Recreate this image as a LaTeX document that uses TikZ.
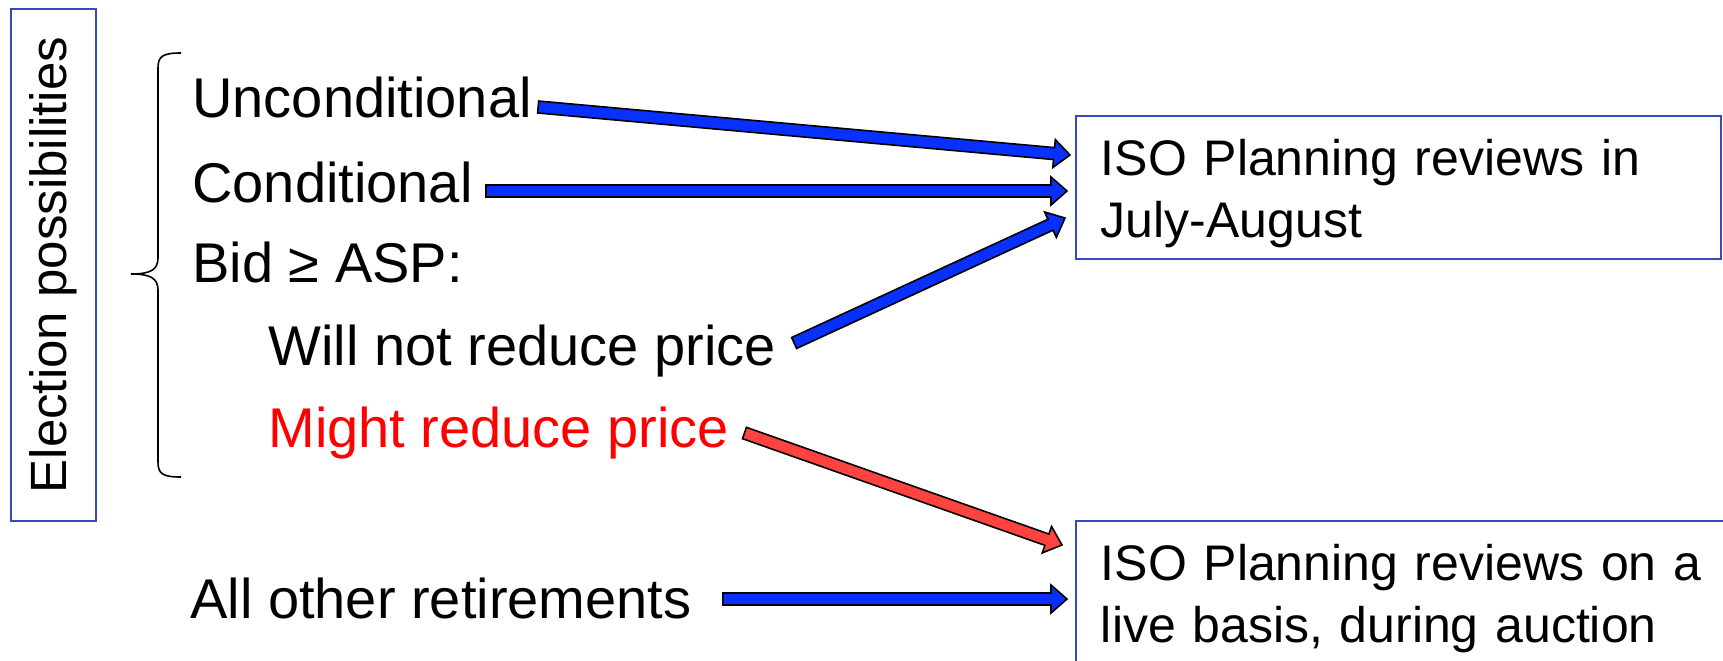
\documentclass[tikz,border=0pt]{standalone}
\usepackage{fontspec}
\setmainfont{Liberation Sans}
\usetikzlibrary{calc}
\definecolor{arrowblue}{RGB}{8,48,255}
\definecolor{arrowred}{RGB}{255,68,64}
\definecolor{boxblue}{RGB}{58,72,190}
% seta de bloco: [preenchimento]{origem}{destino}
\newcommand{\blockArrow}[3][fill=arrowblue]{%
  \coordinate (ba-s) at (#2);
  \coordinate (ba-e) at (#3);
  \coordinate (ba-h) at ($(ba-e)!8pt!(ba-s)$);
  \filldraw[draw=black,line width=0.8pt,line join=miter,#1]
    ($(ba-s)!3pt!90:(ba-e)$)--($(ba-h)!3pt!90:(ba-e)$)
    --($(ba-h)!7pt!90:(ba-e)$)--(ba-e)
    --($(ba-h)!7pt!-90:(ba-e)$)--($(ba-h)!3pt!-90:(ba-e)$)
    --($(ba-s)!3pt!-90:(ba-e)$)--cycle;}
\begin{document}
\begin{tikzpicture}[
  x=0.5pt,y=-0.5pt,
  listtxt/.style={font=\fontsize{28}{34}\selectfont,inner sep=0pt,
    anchor=base west,text height=20pt,text depth=6pt},
  sidebox/.style={draw=boxblue,line width=0.9pt,rotate=90,
    font=\fontsize{25.5}{30}\selectfont,minimum width=256pt,
    minimum height=42.5pt,inner sep=0pt},
  planbox/.style={draw=boxblue,line width=0.9pt,anchor=north west,
    font=\fontsize{25}{31}\selectfont,text width=297.5pt,align=left,
    inner xsep=12.5pt,inner ysep=0pt,text height=30pt,text depth=41.5pt}
]
\path[use as bounding box,clip](0,0)rectangle(1723,660);

% ── Rótulo lateral e chave ───────────────────────────────────────────────────
\node[sidebox](elect) at (53.5,265){Election possibilities};
\draw[line width=0.8pt](181,53)..controls(163,53)and(158,56)..(158,68)
  --(158,258)..controls(158,270)and(150,274)..(131,274)
  ..controls(150,274)and(158,278)..(158,290)
  --(158,462)..controls(158,474)and(163,477)..(181,477);

% ── Opções ───────────────────────────────────────────────────────────────────
\node[listtxt](uncond) at (192,117){Unconditional};
\node[listtxt](cond)   at (192,202){Conditional};
\node[listtxt](bid)    at (192,282){Bid ≥ ASP:};
\node[listtxt](willnot)at (268,365){Will not reduce price};
\node[listtxt,red](might)at (268,447){Might reduce price};
\node[listtxt](others) at (190,618){All other retirements};

% ── Caixas de revisão ────────────────────────────────────────────────────────
\node[planbox](reviewA) at (1075,115){ISO Planning reviews in\\July-August};
\node[planbox,text width=305pt](reviewB) at (1075,520)
  {ISO Planning reviews on a\\live basis, during auction};

% ── Setas ────────────────────────────────────────────────────────────────────
\coordinate(tipA1) at (1070,155);
\coordinate(tipA2) at (1067,191);
\coordinate(tipA3) at (1065,218);
\coordinate(tipB1) at (1062,545);
\coordinate(tipB2) at (1067,599);
\blockArrow{[xshift=3pt,yshift=-2pt]uncond.east}{tipA1}
\blockArrow{[xshift=6.5pt,yshift=-1.5pt]cond.east}{tipA2}
\blockArrow{[xshift=9pt,yshift=4pt]willnot.east}{tipA3}
\blockArrow[fill=arrowred]{[xshift=7.5pt]might.east}{tipB1}
\blockArrow{[xshift=15.5pt,yshift=2.5pt]others.east}{tipB2}
\end{tikzpicture}
\end{document}
